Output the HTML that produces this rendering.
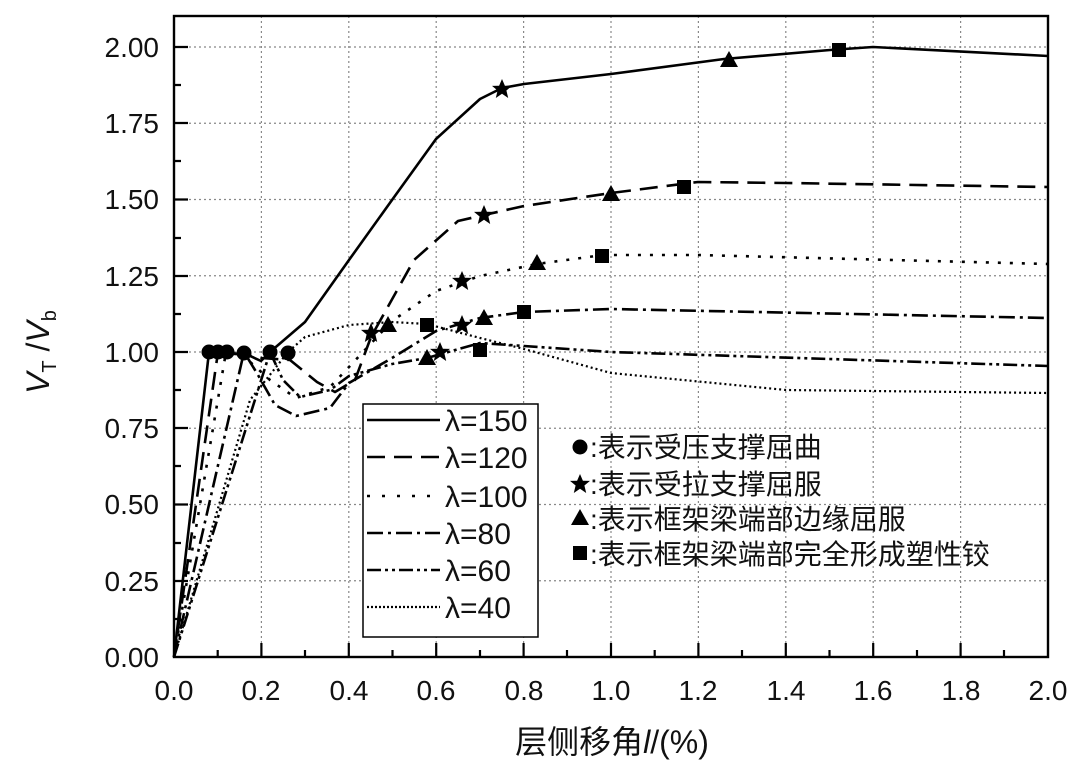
<!DOCTYPE html>
<html><head><meta charset="utf-8"><style>body{margin:0;background:#fff}svg{display:block}</style></head><body>
<svg width="1080" height="773" xmlns="http://www.w3.org/2000/svg" font-family="Liberation Sans, Noto Sans CJK SC, sans-serif">
<defs>
<g id="c"><circle r="7.5" fill="#000"/></g>
<g id="s"><polygon points="0,-10 2.9,-3.3 10,-3.1 4.4,1.5 6.2,9 0,4.8 -6.2,9 -4.4,1.5 -10,-3.1 -2.9,-3.3" fill="#000"/></g>
<g id="t"><polygon points="0,-9 9,7 -9,7" fill="#000"/></g>
<g id="q"><rect x="-7" y="-7" width="14" height="14" fill="#000"/></g>
</defs>
<g stroke="#888" stroke-width="1.2" stroke-dasharray="2,3">
<line x1="261.4" y1="16" x2="261.4" y2="657"/><line x1="348.8" y1="16" x2="348.8" y2="657"/><line x1="436.2" y1="16" x2="436.2" y2="657"/><line x1="523.6" y1="16" x2="523.6" y2="657"/><line x1="611" y1="16" x2="611" y2="657"/><line x1="698.4" y1="16" x2="698.4" y2="657"/><line x1="785.8" y1="16" x2="785.8" y2="657"/><line x1="873.2" y1="16" x2="873.2" y2="657"/><line x1="960.6" y1="16" x2="960.6" y2="657"/>
<line x1="174" y1="47" x2="1048" y2="47"/><line x1="174" y1="123.25" x2="1048" y2="123.25"/><line x1="174" y1="199.5" x2="1048" y2="199.5"/><line x1="174" y1="275.75" x2="1048" y2="275.75"/><line x1="174" y1="352" x2="1048" y2="352"/><line x1="174" y1="428.25" x2="1048" y2="428.25"/><line x1="174" y1="504.5" x2="1048" y2="504.5"/><line x1="174" y1="580.75" x2="1048" y2="580.75"/>
</g>
<g fill="none" stroke="#000" stroke-width="2.6" stroke-linejoin="round">
<polyline points="174,657 209,352 248,355 261,361 270,352 305,322 349,260 392,200 436,139 480,99 502,88 524,84 611,74 724,59 830,50 873,47 1048,56"/>
<polyline stroke-dasharray="18,9" points="174,657 218,352 240,354 261,358 290,360 317,382 335,392 355,380 371,337 414,260 458,221 484,215 524,206 611,193 698,182 786,183 1048,187"/>
<polyline stroke-dasharray="3,9" points="174,657 226,352 248,360 270,380 296,398 330,387 349,367 392,321 436,291 480,276 537,264 603,255 698,255 1048,264"/>
<polyline stroke-dasharray="16,5,3,5" points="174,657 244,352 258,375 275,405 296,416 330,408 349,383 392,358 436,331 480,318 524,312 611,309 1048,318"/>
<polyline stroke-dasharray="14,4,3,4,3,4" points="174,657 270,352 283,380 300,397 330,390 349,376 392,364 427,358 480,343 524,346 611,352 1048,366"/>
<polyline stroke-dasharray="2,3" stroke-width="2.2" points="174,657 250,400 288,352 305,337 349,325 392,322 427,324 480,338 524,349 611,373 786,390 1048,393"/>
</g>
<use href="#c" x="209" y="352"/><use href="#c" x="218" y="352"/><use href="#c" x="227" y="352"/><use href="#c" x="244" y="353"/><use href="#c" x="270" y="352"/><use href="#c" x="288" y="353"/>
<use href="#s" x="502" y="89"/><use href="#t" x="729" y="60"/><use href="#q" x="839" y="50"/>
<use href="#s" x="484" y="215"/><use href="#t" x="611" y="194"/><use href="#q" x="684" y="187"/>
<use href="#s" x="462" y="281"/><use href="#t" x="537" y="263"/><use href="#q" x="602" y="256"/>
<use href="#s" x="462" y="325"/><use href="#t" x="484" y="318"/><use href="#q" x="524" y="312"/>
<use href="#t" x="427" y="358"/><use href="#s" x="440" y="352"/><use href="#q" x="480" y="350"/>
<use href="#s" x="371" y="333"/><use href="#t" x="388" y="325"/><use href="#q" x="427" y="325"/>
<rect x="174" y="16" width="874" height="641" fill="none" stroke="#000" stroke-width="2.4"/>
<g stroke="#000" stroke-width="2.2">
<path d="M174,47h14M174,85h7M174,123h14M174,161h7M174,199.5h14M174,238h7M174,276h14M174,314h7M174,352h14M174,390h7M174,428h14M174,466h7M174,504.5h14M174,543h7M174,581h14M174,619h7"/>
<path d="M217.7,657v-7M261.4,657v-14M305,657v-7M348.8,657v-14M392.5,657v-7M436.2,657v-14M480,657v-7M523.6,657v-14M567,657v-7M611,657v-14M654.7,657v-7M698.4,657v-14M742,657v-7M785.8,657v-14M829.5,657v-7M873.2,657v-14M917,657v-7M960.6,657v-14M1004,657v-7"/>
</g>
<g font-size="28" text-anchor="end" fill="#111">
<text x="159" y="57">2.00</text><text x="159" y="133">1.75</text><text x="159" y="209">1.50</text><text x="159" y="286">1.25</text><text x="159" y="362">1.00</text><text x="159" y="438">0.75</text><text x="159" y="514">0.50</text><text x="159" y="591">0.25</text><text x="159" y="667">0.00</text>
</g>
<g font-size="28" text-anchor="middle" fill="#111">
<text x="174" y="700">0.0</text><text x="261" y="700">0.2</text><text x="349" y="700">0.4</text><text x="436" y="700">0.6</text><text x="524" y="700">0.8</text><text x="611" y="700">1.0</text><text x="698" y="700">1.2</text><text x="786" y="700">1.4</text><text x="873" y="700">1.6</text><text x="961" y="700">1.8</text><text x="1048" y="700">2.0</text>
<text x="612" y="753" font-size="32">层侧移角<tspan font-style="italic">l</tspan>/(%)</text>
</g>
<text transform="translate(49,352) rotate(-90)" font-size="32" text-anchor="middle" fill="#111"><tspan font-style="italic">V</tspan><tspan font-size="20" dy="7">T</tspan><tspan dy="-7"> /</tspan><tspan font-style="italic">V</tspan><tspan font-size="20" dy="7">b</tspan></text>
<rect x="363" y="404" width="175" height="233" fill="#fff" stroke="#000" stroke-width="1.5"/>
<g stroke="#000" stroke-width="2.6" fill="none">
<line x1="367" y1="420" x2="440" y2="420"/>
<line x1="367" y1="457" x2="440" y2="457" stroke-dasharray="18,9"/>
<line x1="367" y1="496" x2="440" y2="496" stroke-dasharray="3,12"/>
<line x1="367" y1="533" x2="440" y2="533" stroke-dasharray="16,5,3,5"/>
<line x1="367" y1="570" x2="440" y2="570" stroke-dasharray="14,4,3,4,3,4"/>
<line x1="367" y1="607" x2="440" y2="607" stroke-dasharray="2,2" stroke-width="2.2"/>
</g>
<g font-size="30" fill="#111">
<text x="445" y="431">λ=150</text><text x="445" y="468">λ=120</text><text x="445" y="507">λ=100</text><text x="445" y="544">λ=80</text><text x="445" y="581">λ=60</text><text x="445" y="618">λ=40</text>
</g>
<use href="#c" x="580" y="447"/><use href="#s" x="580" y="484"/><use href="#t" x="580" y="518"/><use href="#q" x="580" y="553"/>
<g font-size="28" fill="#111">
<text x="590" y="457">:表示受压支撑屈曲</text><text x="590" y="494">:表示受拉支撑屈服</text><text x="590" y="529">:表示框架梁端部边缘屈服</text><text x="590" y="564">:表示框架梁端部完全形成塑性铰</text>
</g>
</svg>
</body></html>
